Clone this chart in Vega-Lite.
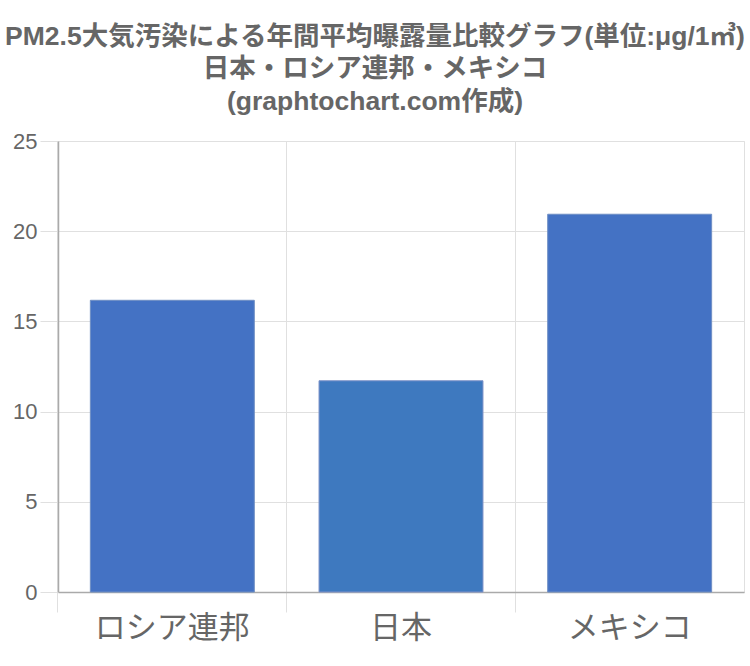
{
  "$schema": "https://vega.github.io/schema/vega-lite/v6.json",
  "width": 686,
  "height": 451,
  "autosize": {"type": "none"},
  "padding": {"left": 58, "top": 141, "right": 6, "bottom": 74},
  "background": "white",
  "title": {
    "text": ["PM2.5大気汚染による年間平均曝露量比較グラフ(単位:μg/1㎥)", "日本・ロシア連邦・メキシコ", "(graphtochart.com作成)"],
    "anchor": "middle",
    "frame": "group",
    "dx": -26,
    "offset": 15,
    "fontSize": 26.5,
    "lineHeight": 32.5,
    "font": "Liberation Sans, Noto Sans CJK JP",
    "fontWeight": "bold",
    "color": "#666666"
  },
  "data": {
    "values": [
      {"country": "ロシア連邦", "value": 16.17},
      {"country": "日本", "value": 11.71},
      {"country": "メキシコ", "value": 20.94}
    ]
  },
  "mark": {"type": "bar", "strokeWidth": 1},
  "encoding": {
    "x": {
      "field": "country",
      "type": "nominal",
      "sort": null,
      "scale": {"paddingInner": 0.283, "paddingOuter": 0.1415},
      "axis": {
        "title": null,
        "labelAngle": 0,
        "bandPosition": -0.1975,
        "grid": true,
        "gridColor": "#e0e0e0",
        "tickColor": "#e0e0e0",
        "tickSize": 20,
        "domainColor": "#aaaaaa",
        "domainWidth": 1.5,
        "labelFontSize": 31,
        "labelColor": "#666666",
        "labelFont": "Noto Sans CJK JP",
        "labelPadding": 1
      }
    },
    "y": {
      "field": "value",
      "type": "quantitative",
      "scale": {"domain": [0, 25], "nice": false},
      "axis": {
        "title": null,
        "values": [0, 5, 10, 15, 20, 25],
        "grid": true,
        "gridColor": "#e0e0e0",
        "tickColor": "#e0e0e0",
        "tickSize": 18,
        "domainColor": "#aaaaaa",
        "domainWidth": 1.5,
        "labelFontSize": 22,
        "labelColor": "#666666",
        "labelFont": "Liberation Sans",
        "labelPadding": 3
      }
    },
    "color": {
      "field": "country",
      "type": "nominal",
      "scale": {"domain": ["ロシア連邦", "日本", "メキシコ"], "range": ["#4472c4", "#3e79bf", "#4472c4"]},
      "legend": null
    },
    "stroke": {
      "field": "country",
      "type": "nominal",
      "scale": {"domain": ["ロシア連邦", "日本", "メキシコ"], "range": ["#6f8fc4", "#7f93c9", "#6f8fc4"]},
      "legend": null
    }
  },
  "config": {
    "view": {"stroke": "#e0e0e0"}
  }
}
